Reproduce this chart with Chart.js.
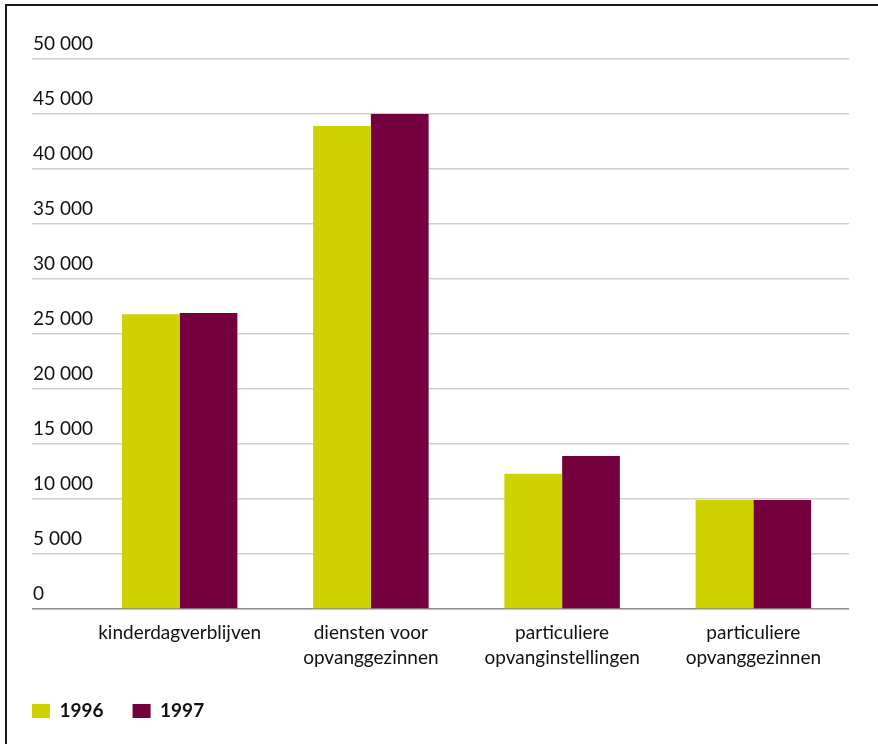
<!DOCTYPE html>
<html><head><meta charset="utf-8">
<script src="https://cdn.jsdelivr.net/npm/chart.js@4/dist/chart.umd.min.js"></script>
<style>
html,body{margin:0;padding:0;background:#fff;}
#wrap{position:absolute;left:0;top:0;width:878px;height:744px;}
#frame{position:absolute;left:5px;top:4px;right:0;bottom:0;border-top:2px solid #1a1a1a;border-left:2px solid #1a1a1a;pointer-events:none;}
</style></head><body>
<div id="wrap"><canvas id="c" width="878" height="744"></canvas></div>
<div id="frame"></div>
<script>
const categories = [["kinderdagverblijven"], ["diensten voor", "opvanggezinnen"], ["particuliere", "opvanginstellingen"], ["particuliere", "opvanggezinnen"]];
const seriesNames = ["1996", "1997"];
const values1996 = [26800, 43900, 12300, 9900];
const values1997 = [26900, 45000, 13900, 9900];
const yTickValues = [0, 5000, 10000, 15000, 20000, 25000, 30000, 35000, 40000, 45000, 50000];
const colors = ["#cdd200", "#74003d"];

function fmt(v) { return String(v).replace(/\B(?=(\d{3})+(?!\d))/g, " "); }

const FONT = "Lato, 'Open Sans', sans-serif";

new Chart(document.getElementById("c"), {
  type: "bar",
  data: {
    labels: categories,
    datasets: [
      { label: seriesNames[0], data: values1996, backgroundColor: colors[0], borderWidth: 0 },
      { label: seriesNames[1], data: values1997, backgroundColor: colors[1], borderWidth: 0 }
    ]
  },
  options: {
    responsive: false,
    animation: false,
    devicePixelRatio: 1,
    layout: { padding: { left: 3, right: 29, top: 59, bottom: 13.5 } },
    datasets: { bar: { categoryPercentage: 0.604, barPercentage: 1.0 } },
    plugins: {
      tooltip: { enabled: false },
      legend: {
        position: "bottom",
        align: "start",
        labels: {
          boxWidth: 18, boxHeight: 14, padding: 29,
          color: "#111",
          font: { family: FONT, size: 19, weight: "bold" }
        }
      }
    },
    scales: {
      x: {
        grid: { display: false, drawTicks: false },
        border: { display: false },
        ticks: {
          color: "#111",
          padding: 11,
          maxRotation: 0,
          autoSkip: false,
          font: { family: FONT, size: 19, lineHeight: 1.33 }
        },
        afterFit: (s) => { s.height = 63.5; s.paddingLeft = 0; s.paddingRight = 0; }
      },
      y: {
        min: 0, max: 50000,
        afterBuildTicks: (s) => { s.ticks = yTickValues.map(v => ({ value: v })); },
        grid: {
          color: (ctx) => ctx.tick && ctx.tick.value === 0 ? "#8c8c8c" : "#cfcfcf",
          lineWidth: 1.5,
          tickLength: 52,
          drawTicks: true
        },
        border: { display: false },
        ticks: {
          mirror: true,
          crossAlign: "near",
          padding: -51,
          labelOffset: -15,
          color: "#111",
          font: { family: FONT, size: 19 },
          callback: (v) => fmt(v)
        },
        afterFit: (s) => { s.width = 81; s.paddingTop = 0; s.paddingBottom = 0; }
      }
    }
  }
});
</script>
</body></html>
